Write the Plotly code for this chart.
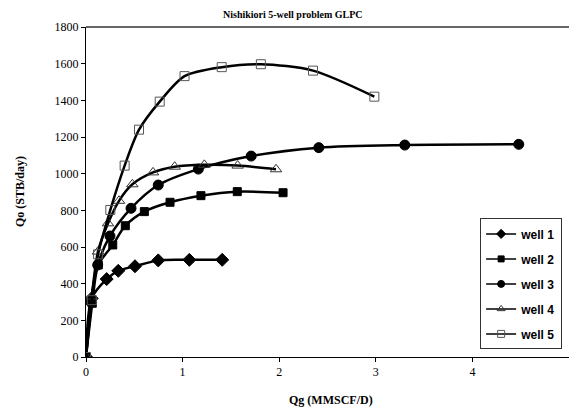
import plotly.graph_objects as go

# Data (Qg in MMSCF/D, Qo in STB/day)
well1_qg = [0, 0.059, 0.214, 0.334, 0.507, 0.748, 1.07, 1.41]
well1_qo = [0, 320, 425, 470, 495, 527, 530, 530]

well2_qg = [0, 0.065, 0.127, 0.277, 0.407, 0.604, 0.87, 1.19, 1.566, 2.04]
well2_qo = [0, 293, 502, 611, 716, 793, 844, 880, 902, 896]

well3_qg = [0, 0.05, 0.121, 0.248, 0.466, 0.748, 1.163, 1.71, 2.41, 3.30, 4.48]
well3_qo = [0, 300, 502, 660, 811, 938, 1025, 1096, 1142, 1156, 1160]

well4_qg = [0, 0.06, 0.124, 0.228, 0.342, 0.48, 0.694, 0.918, 1.225, 1.57, 1.967]
well4_qo = [0, 330, 575, 729, 852, 942, 1007, 1038, 1048, 1044, 1024]

well5_qg = [0, 0.06, 0.125, 0.252, 0.40, 0.549, 0.763, 1.02, 1.405, 1.81, 2.35, 2.985]
well5_qo = [0, 310, 560, 802, 1044, 1240, 1393, 1532, 1581, 1597, 1562, 1420]

names = ["well 1", "well 2", "well 3", "well 4", "well 5"]
xticks = [0, 1, 2, 3, 4]
yticks = [0, 200, 400, 600, 800, 1000, 1200, 1400, 1600, 1800]

symbols = ["diamond", "square", "circle", "triangle-up-open", "square-open"]
sizes = [10, 8, 10, 10, 9]
legend_sizes = [7, 6, 7, 7, 7]
mcolors = ["black", "black", "black", "#333", "#555"]

series = [(well1_qg, well1_qo), (well2_qg, well2_qo), (well3_qg, well3_qo),
          (well4_qg, well4_qo), (well5_qg, well5_qo)]

fig = go.Figure()
for i, (name, (xs, ys)) in enumerate(zip(names, series)):
    fig.add_trace(go.Scatter(
        x=xs, y=ys, name=name, legendgroup=name, showlegend=False, mode="lines+markers",
        line=dict(color="black", width=2.5, shape="spline", smoothing=0.8),
        marker=dict(symbol=symbols[i], size=sizes[i], color=mcolors[i],
                    line=dict(width=1, color=mcolors[i])),
    ))
for i, name in enumerate(names):
    fig.add_trace(go.Scatter(
        x=[None], y=[None], name=name, legendgroup=name, mode="lines+markers",
        line=dict(color="black", width=1.5),
        marker=dict(symbol=symbols[i], size=legend_sizes[i], color=mcolors[i],
                    line=dict(width=1, color=mcolors[i])),
    ))

fig.update_layout(
    width=572, height=412,
    margin=dict(l=86, r=3, t=27, b=55, autoexpand=False),
    paper_bgcolor="white", plot_bgcolor="white",
    showlegend=True,
    legend=dict(
        x=0.816, y=0.42, xanchor="left", yanchor="top",
        bordercolor="#333", borderwidth=1, bgcolor="white",
        font=dict(family="Liberation Sans", size=12, color="black", weight="bold"),
        tracegroupgap=6, itemwidth=30,
    ),
    font=dict(family="Liberation Serif", size=12, color="black"),
)
fig.update_xaxes(
    range=[0, 5], tickvals=xticks, showgrid=False, zeroline=False,
    showline=True, linecolor="black", linewidth=1, automargin=False,
    ticks="outside", ticklen=4, tickcolor="black",
)
fig.update_yaxes(
    range=[0, 1800], tickvals=yticks, showgrid=False, zeroline=False,
    showline=True, linecolor="black", linewidth=1, automargin=False,
    ticks="outside", ticklen=4, tickcolor="black",
)
# top border line
fig.add_shape(type="line", xref="paper", yref="paper", x0=0, x1=1, y0=1, y1=1,
              line=dict(color="#666", width=2))
fig.add_annotation(text="<b>Nishikiori 5-well problem GLPC</b>", xref="paper", yref="paper",
                   x=0.4286, y=1, yshift=13, yanchor="middle", showarrow=False,
                   font=dict(family="Liberation Serif", size=10, color="black"))
fig.add_annotation(text="<b>Qg (MMSCF/D)</b>", xref="paper", yref="paper",
                   x=0.507, y=0, yshift=-43, yanchor="middle", showarrow=False,
                   font=dict(family="Liberation Serif", size=12, color="black"))
fig.add_annotation(text="<b>Qo (STB/day)</b>", xref="paper", yref="paper",
                   x=0, xshift=-66, y=0.5, textangle=-90, xanchor="center", yanchor="middle",
                   showarrow=False,
                   font=dict(family="Liberation Serif", size=12, color="black"))

fig.write_html("out.html", config={"displayModeBar": False},
               post_script="document.body.style.margin='0';document.body.style.overflow='hidden';")
